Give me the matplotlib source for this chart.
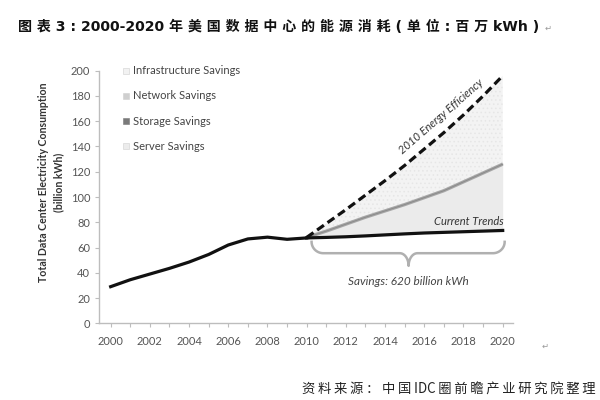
import matplotlib
matplotlib.use("Agg")
import matplotlib.pyplot as plt
import numpy as np

# ---- data ----
years_hist = [2000, 2001, 2002, 2003, 2004, 2005, 2006, 2007, 2008, 2009, 2010]
hist_vals = [29, 34.5, 39, 43.5, 48.5, 54.5, 62, 66.8, 68.2, 66.5, 67.6]

years_proj = [2010, 2011, 2012, 2013, 2014, 2015, 2016, 2017, 2018, 2019, 2020]
current_trends = [67.6, 68.0, 68.5, 69.2, 70.0, 70.8, 71.5, 72.0, 72.5, 73.0, 73.5]
efficiency_2010 = [68, 79, 90, 101.5, 113, 125, 138, 151, 165, 180, 196]
mid_savings = [68, 73, 78.5, 84, 89, 94, 99.5, 105, 112, 119, 126]

legend_labels = ["Infrastructure Savings", "Network Savings", "Storage Savings", "Server Savings"]
legend_colors = ["#f2f2f2", "#cfcfcf", "#7a7a7a", "#ececec"]
legend_y = [200, 180, 160, 140]

xticks = list(range(2000, 2021, 2))
yticks = list(range(0, 201, 20))

title = "图 表 3 : 2000-2020 年 美 国 数 据 中 心 的 能 源 消 耗 ( 单 位 : 百 万 kWh )"
source = "资\u2009料\u2009来\u2009源\u2009：\u2009中\u2009国\u2009IDC\u2009圈\u2009前\u2009瞻\u2009产\u2009业\u2009研\u2009究\u2009院\u2009整\u2009理"
ylabel1 = "Total Data Center Electricity Consumption"
ylabel2 = "(billion kWh)"

# ---- figure ----
fig = plt.figure(figsize=(6, 4), dpi=100)
ax = fig.add_axes([0.1655, 0.19175, 0.6903, 0.6315])
ax.set_xlim(1999.42, 2020.55)
ax.set_ylim(0, 200)

latin = ["Lato", "DejaVu Sans"]
gray_txt = "#555555"
plt.rcParams["hatch.linewidth"] = 0.6

# fills
ax.fill_between(years_proj, current_trends, mid_savings, color="#ebebeb", lw=0, zorder=1)
ax.fill_between(years_proj, mid_savings, efficiency_2010, facecolor="#f3f3f3",
                edgecolor="#e6e6e6", hatch="....", lw=0, zorder=1)
ax.plot(years_proj, mid_savings, color="#a8a8a8", lw=2.4, zorder=2, solid_capstyle="butt")
ax.plot(years_proj, mid_savings, color="#8c8c8c", lw=0.8, zorder=2)

# lines
ax.plot(years_hist, hist_vals, color="#111111", lw=2.3, zorder=4, solid_joinstyle="round")
ax.plot(years_proj, current_trends, color="#111111", lw=2.3, zorder=4)
ax.plot(years_proj, efficiency_2010, color="#111111", lw=2.3, ls=(0, (2.6, 1.4)), zorder=4)

# annotations
ax.text(2020.05, 76.5, "Current Trends", family=latin, style="italic", fontsize=8,
        color="#333333", ha="right", va="bottom", zorder=5)
ax.text(2016.85, 163.5, "2010 Energy Efficiency", family=latin, style="italic", fontsize=8,
        color="#333333", ha="center", va="center", rotation=41, rotation_mode="anchor", zorder=5)

# brace
bx0, bx1, bmid = 2010.25, 2020.1, 2015.2
ytop, ylow, ytip = 64.5, 55.5, 45.5
r = 0.6
t = np.linspace(0, np.pi / 2, 20)
brace_x = list(bx0 + r * (1 - np.cos(t)))
brace_y = list(ytop - (ytop - ylow) * np.sin(t))
s = np.linspace(0, np.pi / 2, 12)
brace_x += list(bmid - 0.45 + 0.45 * np.sin(s))
brace_y += list(ylow - (ylow - ytip) * (1 - np.cos(s)))
brace_x += list(bmid + 0.45 - 0.45 * np.cos(s))
brace_y += list(ytip + (ylow - ytip) * np.sin(s))
brace_x += list(bx1 - r * (1 - np.cos(t[::-1])))
brace_y += list(ytop - (ytop - ylow) * np.sin(t[::-1]))
ax.plot(brace_x, brace_y, color="#b0b0b0", lw=1.8, zorder=3, solid_joinstyle="round")
ax.text(bmid, 33, "Savings: 620 billion kWh", family=latin, style="italic", fontsize=8.5,
        color="#444444", ha="center", va="center")

# legend
for lab, col, yy in zip(legend_labels, legend_colors, legend_y):
    ax.plot([2000.78], [yy], marker="s", ms=4, color=col, mec="#d0d0d0" if col != "#7a7a7a" else col,
            mew=0.4, zorder=5, clip_on=False)
    ax.text(2001.12, yy, lab, family=latin, fontsize=8, color="#444444", va="center", ha="left")

# axes styling
for sp in ["top", "right"]:
    ax.spines[sp].set_visible(False)
for sp in ["left", "bottom"]:
    ax.spines[sp].set_color("#bdbdbd")
    ax.spines[sp].set_linewidth(1.0)
ax.set_xticks(xticks)
ax.set_xticks(range(2000, 2021), minor=True)
ax.set_yticks(yticks)
ax.tick_params(axis="both", which="both", direction="out", color="#bdbdbd", length=3,
               width=0.8, labelcolor=gray_txt, labelsize=8)
ax.tick_params(axis="x", pad=6)
for lbl in ax.get_xticklabels() + ax.get_yticklabels():
    lbl.set_family(latin)

fig.text(0.073, 0.545, ylabel1, rotation=90, ha="center", va="center", family=latin,
         fontweight="bold", fontsize=7.6, color="#333333")
fig.text(0.097, 0.545, ylabel2, rotation=90, ha="center", va="center", family=latin,
         fontweight="bold", fontsize=7.6, color="#333333")

# title & source
fig.text(0.0305, 0.934, title, family=["DejaVu Sans", "Noto Sans CJK SC"], fontweight="bold",
         fontsize=10.1, color="#111111", ha="left", va="center")
fig.text(0.908, 0.930, "\u21b5", family="DejaVu Sans", fontsize=6, color="#999999", va="center")
fig.text(0.903, 0.135, "\u21b5", family="DejaVu Sans", fontsize=6, color="#999999", va="center")
fig.text(0.993, 0.026, source, family=["Noto Sans CJK SC", "DejaVu Sans"], fontsize=9.6,
         color="#222222", ha="right", va="center")

fig.savefig("out.png", dpi=100)
